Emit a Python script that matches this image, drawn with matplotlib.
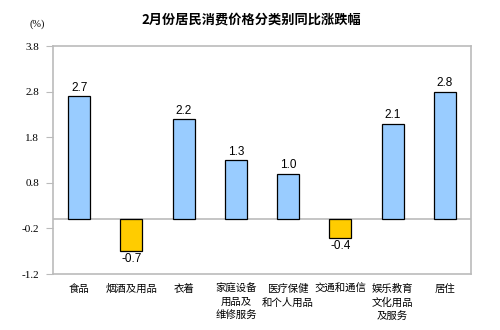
import matplotlib
matplotlib.use("Agg")
import matplotlib.pyplot as plt
import numpy as np

plt.rcParams['font.family'] = ['Noto Sans CJK SC', 'DejaVu Sans']

categories = ["食品", "烟酒及用品", "衣着", "家庭设备\n用品及\n维修服务", "医疗保健\n和个人用品",
              "交通和通信", "娱乐教育\n文化用品\n及服务", "居住"]
values = [2.7, -0.7, 2.2, 1.3, 1.0, -0.4, 2.1, 2.8]
yticks = [3.8, 2.8, 1.8, 0.8, -0.2, -1.2]
title = "2月份居民消费价格分类别同比涨跌幅"

W, H = 500, 330
fig = plt.figure(figsize=(W / 100, H / 100), dpi=100)
ax = fig.add_axes([53 / W, 1 - 274 / H, (471 - 53) / W, (274 - 46) / H])

x = np.arange(len(categories))
colors = ["#99CCFF" if v >= 0 else "#FFCC00" for v in values]
ax.bar(x, values, width=0.42, color=colors, edgecolor="black", linewidth=0.9, zorder=3)
ax.axhline(0, color="#BBBBBB", linewidth=1.2, zorder=2)

ax.set_xlim(-0.5, len(categories) - 0.5)
ax.set_ylim(-1.2, 3.8)
ax.set_yticks(yticks)
ax.set_yticklabels([f"{t:.1f}" for t in yticks], family=["Liberation Serif"], fontsize=8)
ax.tick_params(axis="y", length=5, color="#BBBBBB", pad=5)
ax.set_xticks([])
for s in ax.spines.values():
    s.set_color("#BBBBBB")
    s.set_linewidth(1.2)

for xi, v in zip(x, values):
    if v >= 0:
        ax.text(xi, v + 0.05, f"{v:.1f}", ha="center", va="bottom", fontsize=8.5,
                family=["Liberation Sans"])
    else:
        ax.text(xi, v - 0.05, f"{v:.1f}", ha="center", va="top", fontsize=8.5,
                family=["Liberation Sans"])

for xi, c in zip(x, categories):
    ax.text(xi, -1.2 - 0.22, c, ha="center", va="top", fontsize=7.5,
            linespacing=1.4, transform=ax.transData)

fig.text(251 / W, 1 - 20 / H, title, ha="center", va="center", fontsize=9.5, fontweight="bold")
fig.text(37 / W, 1 - 24 / H, "(%)", ha="center", va="center", fontsize=7.5,
         family=["Liberation Serif"])

fig.savefig("out.png", dpi=100)
